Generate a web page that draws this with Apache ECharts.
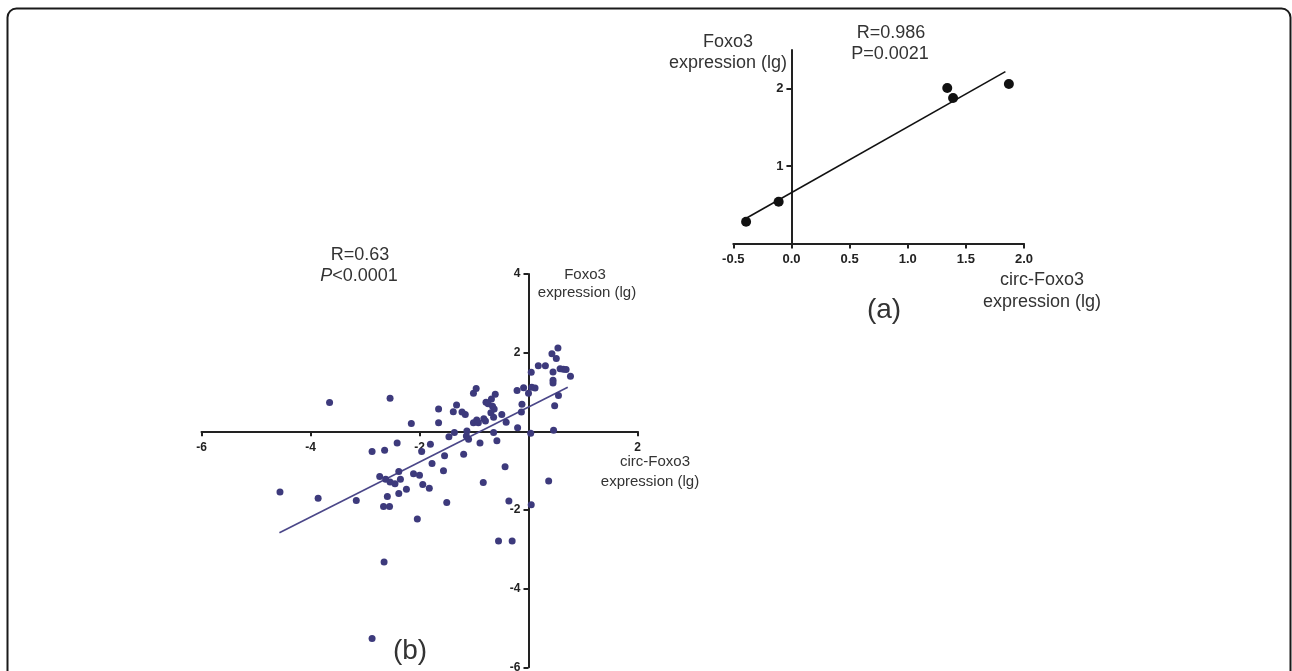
<!DOCTYPE html>
<html>
<head>
<meta charset="utf-8">
<script src="https://cdn.jsdelivr.net/npm/echarts@6/dist/echarts.min.js"></script>
<style>
  html, body { margin: 0; padding: 0; background: #ffffff; }
  #chart { width: 1292px; height: 671px; }
</style>
</head>
<body>
<div id="chart"></div>
<script>
// panel (a): circ-Foxo3 vs Foxo3, 5 samples
const aX = [-0.39, -0.11, 1.34, 1.39, 1.87];
const aY = [0.28, 0.54, 2.01, 1.88, 2.06];
const aFitX = [-0.385, 1.84];
const aFitY = [0.33, 2.22];
const aXTicks = [-0.5, 0, 0.5, 1, 1.5, 2];
const aYTicks = [1, 2];

// panel (b): clinical samples
const bX = [
  0.54, 0.43, 0.51, 0.18, 0.31, 0.58, 0.64, 0.69, 0.77, 0.05,
  0.45, 0.45, 0.45, -0.09, 0.06, 0.12, 0.0, -0.21, -0.12, -0.13,
  0.55, 0.48, 0.46, 0.04, -0.20, -0.61, -0.68, -1.01, -0.96, -0.78,
  -0.74, -0.66, -0.63, -0.69, -0.49, -0.64, -0.82, -0.95, -1.01, -0.92,
  -0.79, -0.41, -1.16, -1.22, -1.38, -1.32, -1.65, -1.65, -2.15, -2.54,
  -3.65, -1.13, -0.64, -1.46, -1.36, -1.14, -1.10, -0.89, -0.58, -1.19,
  -2.41, -1.96, -1.80, -1.54, -2.87, -2.64, -1.77, -1.56, -0.43, -2.38,
  -2.35, -2.45, -2.54, -2.62, -2.73, -2.11, -2.00, -2.24, -2.38, -1.94,
  -1.82, -0.83, -1.50, -0.36, 0.05, -2.04, -2.59, -2.66, -2.55, -4.56,
  -3.86, -3.16, -0.55, -0.30, 0.37, -2.65, -2.87
];
const bY = [
  2.12, 1.97, 1.85, 1.67, 1.67, 1.59, 1.58, 1.57, 1.40, 1.50,
  1.51, 1.30, 1.23, 1.11, 1.12, 1.10, 0.97, 1.04, 0.69, 0.49,
  0.91, 0.65, 0.03, -0.05, 0.09, 0.94, 0.82, 0.97, 1.09, 0.74,
  0.70, 0.64, 0.57, 0.47, 0.43, 0.36, 0.32, 0.29, 0.22, 0.22,
  0.26, 0.23, 0.43, 0.49, 0.50, 0.67, 0.57, 0.22, 0.20, 0.84,
  0.73, 0.01, -0.03, -0.14, -0.03, -0.12, -0.20, -0.30, -0.24, -0.58,
  -0.30, -0.51, -0.33, -0.62, -0.51, -0.48, -0.82, -1.00, -0.90, -1.02,
  -1.22, -1.33, -1.29, -1.22, -1.15, -1.08, -1.12, -1.47, -1.58, -1.35,
  -1.45, -1.30, -1.81, -1.77, -1.87, -2.23, -1.66, -1.91, -1.91, -1.54,
  -1.70, -1.76, -2.79, -2.79, -1.26, -3.32, -5.27
];
const bFitX = [-4.57, 0.72];
const bFitY = [-2.58, 1.12];
const bXTicks = [-6, -4, -2, 2];
const bYTicks = [-6, -4, -2, 2, 4];

const FONT = '"Liberation Sans", Arial, sans-serif';
const INK = '#222222';
const PURPLE = '#3d3a7c';

// grid geometry (pixels)
const gA = { left: 733.3, width: 290.7, top: 50, height: 193.5, outerBoundsMode: 'none' };
const gB = { left: 201.5, width: 436, top: 274, height: 393.3, outerBoundsMode: 'none' };

const pairs = (xs, ys) => xs.map((x, i) => [x, ys[i]]);

// axis crossing at zero, done via offset so labels move with the line
const makeAxis = (grid, min, max, interval, ticks, fontSize, offset, margin, fmt) => ({
  type: 'value',
  gridIndex: grid, min: min, max: max, interval: interval, offset: offset,
  splitLine: { show: false },
  axisLine: { show: true, onZero: false, lineStyle: { color: INK, width: 2 } },
  axisTick: { show: true, length: 5, customValues: ticks, lineStyle: { color: INK, width: 2 } },
  axisLabel: {
    color: INK, fontFamily: FONT, fontWeight: 'bold', fontSize: fontSize, margin: margin,
    customValues: ticks, formatter: fmt
  }
});

const textEl = (text, x, y, size) => ({
  type: 'text',
  style: {
    text: text, x: x, y: y,
    fontFamily: FONT, fontSize: size, fill: '#333333',
    textAlign: 'center', textVerticalAlign: 'middle'
  }
});

const chart = echarts.init(document.getElementById('chart'));

const aYOffset = -(0 - (-0.5)) / 2.5 * gA.width;   // y axis at x = 0
const bYOffset = -(0 - (-6)) / 8 * gB.width;        // y axis at x = 0
const bXOffset = -(0 - (-6)) / 10 * gB.height;      // x axis at y = 0

const option = {
  backgroundColor: '#ffffff',
  animation: false,
  grid: [gA, gB],
  xAxis: [
    makeAxis(0, -0.5, 2, 0.5, aXTicks, 13, 0, 9, v => Number(v).toFixed(1)),
    makeAxis(1, -6, 2, 2, bXTicks, 12, bXOffset, 10)
  ],
  yAxis: [
    makeAxis(0, 0, 2.5, 1, aYTicks, 13, aYOffset, 8),
    makeAxis(1, -6, 4, 2, bYTicks, 12, bYOffset, 8)
  ],
  series: [
    {
      type: 'line', xAxisIndex: 0, yAxisIndex: 0,
      data: pairs(aFitX, aFitY), symbol: 'none',
      lineStyle: { color: '#111111', width: 1.6 }, z: 2
    },
    {
      type: 'scatter', xAxisIndex: 0, yAxisIndex: 0,
      data: pairs(aX, aY), symbolSize: 10,
      itemStyle: { color: '#111111', opacity: 1 }, z: 3
    },
    {
      type: 'line', xAxisIndex: 1, yAxisIndex: 1,
      data: pairs(bFitX, bFitY), symbol: 'none',
      lineStyle: { color: '#4a4688', width: 1.6 }, z: 2
    },
    {
      type: 'scatter', xAxisIndex: 1, yAxisIndex: 1,
      data: pairs(bX, bY), symbolSize: 7,
      itemStyle: { color: PURPLE, opacity: 1 }, z: 3
    }
  ],
  graphic: [
    {
      type: 'rect',
      shape: { x: 7.5, y: 8.5, width: 1283, height: 720, r: 9 },
      style: { fill: 'none', stroke: '#1a1a1a', lineWidth: 2 }
    },
    // panel (a) text
    textEl('R=0.986', 891, 33, 18),
    textEl('P=0.0021', 890, 54, 18),
    textEl('Foxo3', 728, 42, 18),
    textEl('expression (lg)', 728, 63, 18),
    textEl('circ-Foxo3', 1042, 280, 18),
    textEl('expression (lg)', 1042, 302, 18),
    textEl('(a)', 884, 310, 28),
    // panel (b) text
    textEl('R=0.63', 360, 255, 18),
    {
      type: 'text',
      style: {
        text: '{i|P}<0.0001', x: 359, y: 276,
        fontFamily: FONT, fontSize: 18, fill: '#333333',
        textAlign: 'center', textVerticalAlign: 'middle',
        rich: { i: { fontStyle: 'italic', fontFamily: FONT, fontSize: 18, fill: '#333333' } }
      }
    },
    textEl('Foxo3', 585, 275, 15),
    textEl('expression (lg)', 587, 293, 15),
    textEl('circ-Foxo3', 655, 462, 15),
    textEl('expression (lg)', 650, 482, 15),
    textEl('(b)', 410, 651, 28)
  ]
};

chart.setOption(option);
</script>
</body>
</html>
